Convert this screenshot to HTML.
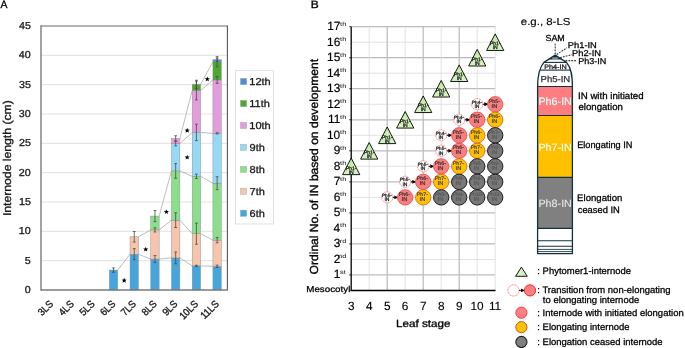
<!DOCTYPE html>
<html><head><meta charset="utf-8"><style>
html,body{margin:0;padding:0;background:#fff;}
svg{display:block;font-family:"Liberation Sans", sans-serif;text-rendering:geometricPrecision;will-change:transform;}
</style></head><body>
<svg width="685" height="348" viewBox="0 0 685 348">
<rect width="685" height="348" fill="#fff"/>
<text x="0.60" y="8.00" font-size="10.8" textLength="6.92" lengthAdjust="spacingAndGlyphs" fill="#000" stroke="#000" stroke-width="0.32">A</text>
<line x1="41.0" x2="227.4" y1="260.67" y2="260.67" stroke="#D9D9D9" stroke-width="0.8"/>
<line x1="41.0" x2="227.4" y1="231.33" y2="231.33" stroke="#D9D9D9" stroke-width="0.8"/>
<line x1="41.0" x2="227.4" y1="202.00" y2="202.00" stroke="#D9D9D9" stroke-width="0.8"/>
<line x1="41.0" x2="227.4" y1="172.67" y2="172.67" stroke="#D9D9D9" stroke-width="0.8"/>
<line x1="41.0" x2="227.4" y1="143.33" y2="143.33" stroke="#D9D9D9" stroke-width="0.8"/>
<line x1="41.0" x2="227.4" y1="114.00" y2="114.00" stroke="#D9D9D9" stroke-width="0.8"/>
<line x1="41.0" x2="227.4" y1="84.67" y2="84.67" stroke="#D9D9D9" stroke-width="0.8"/>
<line x1="41.0" x2="227.4" y1="55.33" y2="55.33" stroke="#D9D9D9" stroke-width="0.8"/>
<text x="24.83" y="293.10" font-size="10.1" textLength="5.95" lengthAdjust="spacingAndGlyphs" fill="#1a1a1a" stroke="#1a1a1a" stroke-width="0.30">0</text>
<text x="24.89" y="263.77" font-size="10.1" textLength="5.95" lengthAdjust="spacingAndGlyphs" fill="#1a1a1a" stroke="#1a1a1a" stroke-width="0.30">5</text>
<text x="18.89" y="234.43" font-size="10.1" textLength="11.91" lengthAdjust="spacingAndGlyphs" fill="#1a1a1a" stroke="#1a1a1a" stroke-width="0.30">10</text>
<text x="18.94" y="205.10" font-size="10.1" textLength="11.91" lengthAdjust="spacingAndGlyphs" fill="#1a1a1a" stroke="#1a1a1a" stroke-width="0.30">15</text>
<text x="18.89" y="175.77" font-size="10.1" textLength="11.91" lengthAdjust="spacingAndGlyphs" fill="#1a1a1a" stroke="#1a1a1a" stroke-width="0.30">20</text>
<text x="18.94" y="146.43" font-size="10.1" textLength="11.91" lengthAdjust="spacingAndGlyphs" fill="#1a1a1a" stroke="#1a1a1a" stroke-width="0.30">25</text>
<text x="18.89" y="117.10" font-size="10.1" textLength="11.91" lengthAdjust="spacingAndGlyphs" fill="#1a1a1a" stroke="#1a1a1a" stroke-width="0.30">30</text>
<text x="18.94" y="87.77" font-size="10.1" textLength="11.91" lengthAdjust="spacingAndGlyphs" fill="#1a1a1a" stroke="#1a1a1a" stroke-width="0.30">35</text>
<text x="18.89" y="58.43" font-size="10.1" textLength="11.91" lengthAdjust="spacingAndGlyphs" fill="#1a1a1a" stroke="#1a1a1a" stroke-width="0.30">40</text>
<text x="18.94" y="29.10" font-size="10.1" textLength="11.91" lengthAdjust="spacingAndGlyphs" fill="#1a1a1a" stroke="#1a1a1a" stroke-width="0.30">45</text>
<g transform="translate(10.7 215) rotate(-90)"><text x="-1.10" y="0.00" font-size="11.3" textLength="115.89" lengthAdjust="spacingAndGlyphs" fill="#1a1a1a" stroke="#1a1a1a" stroke-width="0.34">Internode length (cm)</text></g>
<g transform="translate(53.56 304.90) rotate(-45)"><text x="-16.23" y="0.00" font-size="10.2" textLength="16.70" lengthAdjust="spacingAndGlyphs" fill="#1a1a1a" stroke="#1a1a1a" stroke-width="0.36">3LS</text></g>
<g transform="translate(74.28 304.90) rotate(-45)"><text x="-16.23" y="0.00" font-size="10.2" textLength="16.70" lengthAdjust="spacingAndGlyphs" fill="#1a1a1a" stroke="#1a1a1a" stroke-width="0.36">4LS</text></g>
<g transform="translate(95.00 304.90) rotate(-45)"><text x="-16.23" y="0.00" font-size="10.2" textLength="16.70" lengthAdjust="spacingAndGlyphs" fill="#1a1a1a" stroke="#1a1a1a" stroke-width="0.36">5LS</text></g>
<g transform="translate(115.72 304.90) rotate(-45)"><text x="-16.23" y="0.00" font-size="10.2" textLength="16.70" lengthAdjust="spacingAndGlyphs" fill="#1a1a1a" stroke="#1a1a1a" stroke-width="0.36">6LS</text></g>
<g transform="translate(136.44 304.90) rotate(-45)"><text x="-16.23" y="0.00" font-size="10.2" textLength="16.70" lengthAdjust="spacingAndGlyphs" fill="#1a1a1a" stroke="#1a1a1a" stroke-width="0.36">7LS</text></g>
<g transform="translate(157.16 304.90) rotate(-45)"><text x="-16.23" y="0.00" font-size="10.2" textLength="16.70" lengthAdjust="spacingAndGlyphs" fill="#1a1a1a" stroke="#1a1a1a" stroke-width="0.36">8LS</text></g>
<g transform="translate(177.88 304.90) rotate(-45)"><text x="-16.23" y="0.00" font-size="10.2" textLength="16.70" lengthAdjust="spacingAndGlyphs" fill="#1a1a1a" stroke="#1a1a1a" stroke-width="0.36">9LS</text></g>
<g transform="translate(198.60 304.90) rotate(-45)"><text x="-21.49" y="0.00" font-size="10.2" textLength="21.92" lengthAdjust="spacingAndGlyphs" fill="#1a1a1a" stroke="#1a1a1a" stroke-width="0.36">10LS</text></g>
<g transform="translate(219.32 304.90) rotate(-45)"><text x="-20.79" y="0.00" font-size="10.2" textLength="21.22" lengthAdjust="spacingAndGlyphs" fill="#1a1a1a" stroke="#1a1a1a" stroke-width="0.36">11LS</text></g>
<line x1="117.72" y1="270.05" x2="130.04" y2="254.21" stroke="#A0A0A0" stroke-width="0.7"/>
<line x1="138.44" y1="254.21" x2="150.76" y2="259.08" stroke="#A0A0A0" stroke-width="0.7"/>
<line x1="138.44" y1="236.79" x2="150.76" y2="229.93" stroke="#A0A0A0" stroke-width="0.7"/>
<line x1="159.16" y1="259.08" x2="171.48" y2="257.91" stroke="#A0A0A0" stroke-width="0.7"/>
<line x1="159.16" y1="229.93" x2="171.48" y2="220.19" stroke="#A0A0A0" stroke-width="0.7"/>
<line x1="159.16" y1="216.08" x2="171.48" y2="170.91" stroke="#A0A0A0" stroke-width="0.7"/>
<line x1="179.88" y1="257.91" x2="192.20" y2="265.83" stroke="#A0A0A0" stroke-width="0.7"/>
<line x1="179.88" y1="220.19" x2="192.20" y2="233.68" stroke="#A0A0A0" stroke-width="0.7"/>
<line x1="179.88" y1="170.91" x2="192.20" y2="176.30" stroke="#A0A0A0" stroke-width="0.7"/>
<line x1="179.88" y1="143.51" x2="192.20" y2="132.42" stroke="#A0A0A0" stroke-width="0.7"/>
<line x1="179.88" y1="138.41" x2="192.20" y2="90.53" stroke="#A0A0A0" stroke-width="0.7"/>
<line x1="200.60" y1="265.83" x2="212.92" y2="266.30" stroke="#A0A0A0" stroke-width="0.7"/>
<line x1="200.60" y1="233.68" x2="212.92" y2="240.13" stroke="#A0A0A0" stroke-width="0.7"/>
<line x1="200.60" y1="176.30" x2="212.92" y2="183.23" stroke="#A0A0A0" stroke-width="0.7"/>
<line x1="200.60" y1="132.42" x2="212.92" y2="133.36" stroke="#A0A0A0" stroke-width="0.7"/>
<line x1="200.60" y1="90.53" x2="212.92" y2="79.97" stroke="#A0A0A0" stroke-width="0.7"/>
<line x1="200.60" y1="84.31" x2="212.92" y2="61.79" stroke="#A0A0A0" stroke-width="0.7"/>
<rect x="109.32" y="270.05" width="8.4" height="19.95" fill="#45A6DD" stroke="#8C8C8C" stroke-width="0.45"/>
<rect x="130.04" y="254.21" width="8.4" height="35.79" fill="#45A6DD" stroke="#8C8C8C" stroke-width="0.45"/>
<rect x="130.04" y="236.79" width="8.4" height="17.42" fill="#F6C5AC" stroke="#8C8C8C" stroke-width="0.45"/>
<rect x="150.76" y="259.08" width="8.4" height="30.92" fill="#45A6DD" stroke="#8C8C8C" stroke-width="0.45"/>
<rect x="150.76" y="229.93" width="8.4" height="29.16" fill="#F6C5AC" stroke="#8C8C8C" stroke-width="0.45"/>
<rect x="150.76" y="216.08" width="8.4" height="13.85" fill="#8BDF8B" stroke="#8C8C8C" stroke-width="0.45"/>
<rect x="171.48" y="257.91" width="8.4" height="32.09" fill="#45A6DD" stroke="#8C8C8C" stroke-width="0.45"/>
<rect x="171.48" y="220.19" width="8.4" height="37.72" fill="#F6C5AC" stroke="#8C8C8C" stroke-width="0.45"/>
<rect x="171.48" y="170.91" width="8.4" height="49.28" fill="#8BDF8B" stroke="#8C8C8C" stroke-width="0.45"/>
<rect x="171.48" y="143.51" width="8.4" height="27.40" fill="#96D9F5" stroke="#8C8C8C" stroke-width="0.45"/>
<rect x="171.48" y="138.41" width="8.4" height="5.10" fill="#E39DDD" stroke="#8C8C8C" stroke-width="0.45"/>
<rect x="192.20" y="265.83" width="8.4" height="24.17" fill="#45A6DD" stroke="#8C8C8C" stroke-width="0.45"/>
<rect x="192.20" y="233.68" width="8.4" height="32.15" fill="#F6C5AC" stroke="#8C8C8C" stroke-width="0.45"/>
<rect x="192.20" y="176.30" width="8.4" height="57.38" fill="#8BDF8B" stroke="#8C8C8C" stroke-width="0.45"/>
<rect x="192.20" y="132.42" width="8.4" height="43.88" fill="#96D9F5" stroke="#8C8C8C" stroke-width="0.45"/>
<rect x="192.20" y="90.53" width="8.4" height="41.89" fill="#E39DDD" stroke="#8C8C8C" stroke-width="0.45"/>
<rect x="192.20" y="84.31" width="8.4" height="6.22" fill="#4EA72E" stroke="#8C8C8C" stroke-width="0.45"/>
<rect x="212.92" y="266.30" width="8.4" height="23.70" fill="#45A6DD" stroke="#8C8C8C" stroke-width="0.45"/>
<rect x="212.92" y="240.13" width="8.4" height="26.17" fill="#F6C5AC" stroke="#8C8C8C" stroke-width="0.45"/>
<rect x="212.92" y="183.23" width="8.4" height="56.91" fill="#8BDF8B" stroke="#8C8C8C" stroke-width="0.45"/>
<rect x="212.92" y="133.36" width="8.4" height="49.87" fill="#96D9F5" stroke="#8C8C8C" stroke-width="0.45"/>
<rect x="212.92" y="79.97" width="8.4" height="53.39" fill="#E39DDD" stroke="#8C8C8C" stroke-width="0.45"/>
<rect x="212.92" y="61.79" width="8.4" height="18.19" fill="#4EA72E" stroke="#8C8C8C" stroke-width="0.45"/>
<rect x="212.92" y="59.73" width="8.4" height="2.05" fill="#4A8FDB" stroke="#8C8C8C" stroke-width="0.45"/>
<path d="M113.52 267.88V272.22M112.12 267.88h2.8M112.12 272.22h2.8" stroke="#4a4a4a" stroke-width="0.8" fill="none"/>
<path d="M134.24 248.64V259.79M132.84 248.64h2.8M132.84 259.79h2.8" stroke="#4a4a4a" stroke-width="0.8" fill="none"/>
<path d="M134.24 231.51V242.07M132.84 231.51h2.8M132.84 242.07h2.8" stroke="#4a4a4a" stroke-width="0.8" fill="none"/>
<path d="M154.96 255.56V262.60M153.56 255.56h2.8M153.56 262.60h2.8" stroke="#4a4a4a" stroke-width="0.8" fill="none"/>
<path d="M154.96 227.87V231.98M153.56 227.87h2.8M153.56 231.98h2.8" stroke="#4a4a4a" stroke-width="0.8" fill="none"/>
<path d="M154.96 210.51V221.65M153.56 210.51h2.8M153.56 221.65h2.8" stroke="#4a4a4a" stroke-width="0.8" fill="none"/>
<path d="M175.68 252.04V263.78M174.28 252.04h2.8M174.28 263.78h2.8" stroke="#4a4a4a" stroke-width="0.8" fill="none"/>
<path d="M175.68 212.85V227.52M174.28 212.85h2.8M174.28 227.52h2.8" stroke="#4a4a4a" stroke-width="0.8" fill="none"/>
<path d="M175.68 163.57V178.24M174.28 163.57h2.8M174.28 178.24h2.8" stroke="#4a4a4a" stroke-width="0.8" fill="none"/>
<path d="M175.68 141.16V145.86M174.28 141.16h2.8M174.28 145.86h2.8" stroke="#4a4a4a" stroke-width="0.8" fill="none"/>
<path d="M175.68 135.77V141.05M174.28 135.77h2.8M174.28 141.05h2.8" stroke="#4a4a4a" stroke-width="0.8" fill="none"/>
<path d="M196.40 265.24V266.42M195.00 265.24h2.8M195.00 266.42h2.8" stroke="#4a4a4a" stroke-width="0.8" fill="none"/>
<path d="M196.40 223.12V244.24M195.00 223.12h2.8M195.00 244.24h2.8" stroke="#4a4a4a" stroke-width="0.8" fill="none"/>
<path d="M196.40 174.13V178.47M195.00 174.13h2.8M195.00 178.47h2.8" stroke="#4a4a4a" stroke-width="0.8" fill="none"/>
<path d="M196.40 124.21V140.63M195.00 124.21h2.8M195.00 140.63h2.8" stroke="#4a4a4a" stroke-width="0.8" fill="none"/>
<path d="M196.40 81.15V99.92M195.00 81.15h2.8M195.00 99.92h2.8" stroke="#4a4a4a" stroke-width="0.8" fill="none"/>
<path d="M196.40 80.21V88.42M195.00 80.21h2.8M195.00 88.42h2.8" stroke="#4a4a4a" stroke-width="0.8" fill="none"/>
<path d="M217.12 265.13V267.47M215.72 265.13h2.8M215.72 267.47h2.8" stroke="#4a4a4a" stroke-width="0.8" fill="none"/>
<path d="M217.12 237.49V242.77M215.72 237.49h2.8M215.72 242.77h2.8" stroke="#4a4a4a" stroke-width="0.8" fill="none"/>
<path d="M217.12 176.77V189.68M215.72 176.77h2.8M215.72 189.68h2.8" stroke="#4a4a4a" stroke-width="0.8" fill="none"/>
<path d="M217.12 132.77V133.95M215.72 132.77h2.8M215.72 133.95h2.8" stroke="#4a4a4a" stroke-width="0.8" fill="none"/>
<path d="M217.12 76.57V83.38M215.72 76.57h2.8M215.72 83.38h2.8" stroke="#4a4a4a" stroke-width="0.8" fill="none"/>
<path d="M217.12 56.68V66.89M215.72 56.68h2.8M215.72 66.89h2.8" stroke="#4a4a4a" stroke-width="0.8" fill="none"/>
<path d="M217.12 58.15V61.32M215.72 58.15h2.8M215.72 61.32h2.8" stroke="#4a4a4a" stroke-width="0.8" fill="none"/>
<line x1="41.0" x2="227.4" y1="26" y2="26" stroke="#9C9C9C" stroke-width="1.5"/>
<line x1="227.4" x2="227.4" y1="25.5" y2="290.0" stroke="#555" stroke-width="1.1"/>
<line x1="41.0" x2="41.0" y1="25.3" y2="290.7" stroke="#767676" stroke-width="1.35"/>
<line x1="41.0" x2="227.9" y1="290.0" y2="290.0" stroke="#7A7A7A" stroke-width="1.4"/>
<polygon points="124.20,277.75 124.88,279.57 126.82,279.65 125.30,280.86 125.82,282.72 124.20,281.65 122.58,282.72 123.10,280.86 121.58,279.65 123.52,279.57" fill="#000"/>
<polygon points="145.70,246.65 146.38,248.47 148.32,248.55 146.80,249.76 147.32,251.62 145.70,250.56 144.08,251.62 144.60,249.76 143.08,248.55 145.02,248.47" fill="#000"/>
<polygon points="166.40,209.15 167.08,210.97 169.02,211.05 167.50,212.26 168.02,214.12 166.40,213.06 164.78,214.12 165.30,212.26 163.78,211.05 165.72,210.97" fill="#000"/>
<polygon points="187.20,154.65 187.88,156.47 189.82,156.55 188.30,157.76 188.82,159.62 187.20,158.56 185.58,159.62 186.10,157.76 184.58,156.55 186.52,156.47" fill="#000"/>
<polygon points="187.20,127.75 187.88,129.57 189.82,129.65 188.30,130.86 188.82,132.72 187.20,131.66 185.58,132.72 186.10,130.86 184.58,129.65 186.52,129.57" fill="#000"/>
<polygon points="207.30,76.45 207.98,78.27 209.92,78.35 208.40,79.56 208.92,81.42 207.30,80.36 205.68,81.42 206.20,79.56 204.68,78.35 206.62,78.27" fill="#000"/>
<rect x="235.5" y="70.7" width="37.9" height="153.3" fill="#fff" stroke="#D9D9D9" stroke-width="0.8"/>
<rect x="240.4" y="78.40" width="6.3" height="6.3" fill="#4A8FDB" stroke="#A6A6A6" stroke-width="0.4"/>
<text x="249.27" y="84.80" font-size="10.1" textLength="21.43" lengthAdjust="spacingAndGlyphs" fill="#1a1a1a" stroke="#1a1a1a" stroke-width="0.30">12th</text>
<rect x="240.4" y="100.35" width="6.3" height="6.3" fill="#4EA72E" stroke="#A6A6A6" stroke-width="0.4"/>
<text x="249.27" y="106.75" font-size="10.1" textLength="20.61" lengthAdjust="spacingAndGlyphs" fill="#1a1a1a" stroke="#1a1a1a" stroke-width="0.30">11th</text>
<rect x="240.4" y="122.30" width="6.3" height="6.3" fill="#E39DDD" stroke="#A6A6A6" stroke-width="0.4"/>
<text x="249.27" y="128.70" font-size="10.1" textLength="21.43" lengthAdjust="spacingAndGlyphs" fill="#1a1a1a" stroke="#1a1a1a" stroke-width="0.30">10th</text>
<rect x="240.4" y="144.25" width="6.3" height="6.3" fill="#96D9F5" stroke="#A6A6A6" stroke-width="0.4"/>
<text x="249.60" y="150.65" font-size="10.1" textLength="15.30" lengthAdjust="spacingAndGlyphs" fill="#1a1a1a" stroke="#1a1a1a" stroke-width="0.30">9th</text>
<rect x="240.4" y="166.20" width="6.3" height="6.3" fill="#8BDF8B" stroke="#A6A6A6" stroke-width="0.4"/>
<text x="249.60" y="172.60" font-size="10.1" textLength="15.30" lengthAdjust="spacingAndGlyphs" fill="#1a1a1a" stroke="#1a1a1a" stroke-width="0.30">8th</text>
<rect x="240.4" y="188.15" width="6.3" height="6.3" fill="#F6C5AC" stroke="#A6A6A6" stroke-width="0.4"/>
<text x="249.55" y="194.55" font-size="10.1" textLength="15.30" lengthAdjust="spacingAndGlyphs" fill="#1a1a1a" stroke="#1a1a1a" stroke-width="0.30">7th</text>
<rect x="240.4" y="210.10" width="6.3" height="6.3" fill="#45A6DD" stroke="#A6A6A6" stroke-width="0.4"/>
<text x="249.55" y="216.50" font-size="10.1" textLength="15.30" lengthAdjust="spacingAndGlyphs" fill="#1a1a1a" stroke="#1a1a1a" stroke-width="0.30">6th</text>
<text x="310.74" y="8.30" font-size="10.7" textLength="7.98" lengthAdjust="spacingAndGlyphs" fill="#000" stroke="#000" stroke-width="0.32">B</text>
<line x1="351.2" x2="495.20" y1="274.98" y2="274.98" stroke="#BBBBBB" stroke-width="1.25"/>
<line x1="351.2" x2="495.20" y1="259.46" y2="259.46" stroke="#DADADA" stroke-width="0.8"/>
<line x1="351.2" x2="495.20" y1="243.94" y2="243.94" stroke="#BBBBBB" stroke-width="1.25"/>
<line x1="351.2" x2="495.20" y1="228.42" y2="228.42" stroke="#DADADA" stroke-width="0.8"/>
<line x1="351.2" x2="495.20" y1="212.90" y2="212.90" stroke="#BBBBBB" stroke-width="1.25"/>
<line x1="351.2" x2="495.20" y1="197.38" y2="197.38" stroke="#DADADA" stroke-width="0.8"/>
<line x1="351.2" x2="495.20" y1="181.86" y2="181.86" stroke="#BBBBBB" stroke-width="1.25"/>
<line x1="351.2" x2="495.20" y1="166.34" y2="166.34" stroke="#DADADA" stroke-width="0.8"/>
<line x1="351.2" x2="495.20" y1="150.82" y2="150.82" stroke="#BBBBBB" stroke-width="1.25"/>
<line x1="351.2" x2="495.20" y1="135.30" y2="135.30" stroke="#DADADA" stroke-width="0.8"/>
<line x1="351.2" x2="495.20" y1="119.78" y2="119.78" stroke="#BBBBBB" stroke-width="1.25"/>
<line x1="351.2" x2="495.20" y1="104.26" y2="104.26" stroke="#DADADA" stroke-width="0.8"/>
<line x1="351.2" x2="495.20" y1="88.74" y2="88.74" stroke="#BBBBBB" stroke-width="1.25"/>
<line x1="351.2" x2="495.20" y1="73.22" y2="73.22" stroke="#DADADA" stroke-width="0.8"/>
<line x1="351.2" x2="495.20" y1="57.70" y2="57.70" stroke="#BBBBBB" stroke-width="1.25"/>
<line x1="351.2" x2="495.20" y1="42.18" y2="42.18" stroke="#DADADA" stroke-width="0.8"/>
<line x1="351.2" x2="495.20" y1="26.66" y2="26.66" stroke="#BBBBBB" stroke-width="1.25"/>
<line x1="369.20" x2="369.20" y1="26.66" y2="290.5" stroke="#DADADA" stroke-width="0.8"/>
<line x1="387.20" x2="387.20" y1="26.66" y2="290.5" stroke="#BBBBBB" stroke-width="1.25"/>
<line x1="405.20" x2="405.20" y1="26.66" y2="290.5" stroke="#DADADA" stroke-width="0.8"/>
<line x1="423.20" x2="423.20" y1="26.66" y2="290.5" stroke="#BBBBBB" stroke-width="1.25"/>
<line x1="441.20" x2="441.20" y1="26.66" y2="290.5" stroke="#DADADA" stroke-width="0.8"/>
<line x1="459.20" x2="459.20" y1="26.66" y2="290.5" stroke="#BBBBBB" stroke-width="1.25"/>
<line x1="477.20" x2="477.20" y1="26.66" y2="290.5" stroke="#DADADA" stroke-width="0.8"/>
<line x1="495.20" x2="495.20" y1="26.66" y2="290.5" stroke="#DADADA" stroke-width="0.8"/>
<line x1="351.2" x2="351.2" y1="26.66" y2="291.1" stroke="#000" stroke-width="1.3"/>
<line x1="350.59999999999997" x2="495.50" y1="290.5" y2="290.5" stroke="#000" stroke-width="1.3"/>
<line x1="349.2" x2="351.2" y1="274.98" y2="274.98" stroke="#000" stroke-width="0.8"/>
<line x1="349.2" x2="351.2" y1="243.94" y2="243.94" stroke="#000" stroke-width="0.8"/>
<line x1="349.2" x2="351.2" y1="212.90" y2="212.90" stroke="#000" stroke-width="0.8"/>
<line x1="349.2" x2="351.2" y1="181.86" y2="181.86" stroke="#000" stroke-width="0.8"/>
<line x1="349.2" x2="351.2" y1="150.82" y2="150.82" stroke="#000" stroke-width="0.8"/>
<line x1="349.2" x2="351.2" y1="119.78" y2="119.78" stroke="#000" stroke-width="0.8"/>
<line x1="349.2" x2="351.2" y1="88.74" y2="88.74" stroke="#000" stroke-width="0.8"/>
<line x1="349.2" x2="351.2" y1="57.70" y2="57.70" stroke="#000" stroke-width="0.8"/>
<line x1="349.2" x2="351.2" y1="26.66" y2="26.66" stroke="#000" stroke-width="0.8"/>
<text x="340.12" y="273.98" font-size="5.9" textLength="5.74" lengthAdjust="spacingAndGlyphs" fill="#111" stroke="#111" stroke-width="0.03">st</text>
<text x="333.73" y="278.48" font-size="11.9" textLength="6.62" lengthAdjust="spacingAndGlyphs" fill="#000" stroke="#000" stroke-width="0.18">1</text>
<text x="338.09" y="258.46" font-size="5.9" textLength="8.20" lengthAdjust="spacingAndGlyphs" fill="#111" stroke="#111" stroke-width="0.03">nd</text>
<text x="333.79" y="262.96" font-size="11.9" textLength="6.62" lengthAdjust="spacingAndGlyphs" fill="#000" stroke="#000" stroke-width="0.18">2</text>
<text x="339.72" y="242.94" font-size="5.9" textLength="6.56" lengthAdjust="spacingAndGlyphs" fill="#111" stroke="#111" stroke-width="0.03">rd</text>
<text x="333.67" y="247.44" font-size="11.9" textLength="6.62" lengthAdjust="spacingAndGlyphs" fill="#000" stroke="#000" stroke-width="0.18">3</text>
<text x="340.12" y="227.42" font-size="5.9" textLength="6.15" lengthAdjust="spacingAndGlyphs" fill="#111" stroke="#111" stroke-width="0.03">th</text>
<text x="333.55" y="231.92" font-size="11.9" textLength="6.62" lengthAdjust="spacingAndGlyphs" fill="#000" stroke="#000" stroke-width="0.18">4</text>
<text x="340.12" y="211.90" font-size="5.9" textLength="6.15" lengthAdjust="spacingAndGlyphs" fill="#111" stroke="#111" stroke-width="0.03">th</text>
<text x="333.67" y="216.40" font-size="11.9" textLength="6.62" lengthAdjust="spacingAndGlyphs" fill="#000" stroke="#000" stroke-width="0.18">5</text>
<text x="340.12" y="196.38" font-size="5.9" textLength="6.15" lengthAdjust="spacingAndGlyphs" fill="#111" stroke="#111" stroke-width="0.03">th</text>
<text x="333.67" y="200.88" font-size="11.9" textLength="6.62" lengthAdjust="spacingAndGlyphs" fill="#000" stroke="#000" stroke-width="0.18">6</text>
<text x="340.12" y="180.86" font-size="5.9" textLength="6.15" lengthAdjust="spacingAndGlyphs" fill="#111" stroke="#111" stroke-width="0.03">th</text>
<text x="333.79" y="185.36" font-size="11.9" textLength="6.62" lengthAdjust="spacingAndGlyphs" fill="#000" stroke="#000" stroke-width="0.18">7</text>
<text x="340.12" y="165.34" font-size="5.9" textLength="6.15" lengthAdjust="spacingAndGlyphs" fill="#111" stroke="#111" stroke-width="0.03">th</text>
<text x="333.67" y="169.84" font-size="11.9" textLength="6.62" lengthAdjust="spacingAndGlyphs" fill="#000" stroke="#000" stroke-width="0.18">8</text>
<text x="340.12" y="149.82" font-size="5.9" textLength="6.15" lengthAdjust="spacingAndGlyphs" fill="#111" stroke="#111" stroke-width="0.03">th</text>
<text x="333.73" y="154.32" font-size="11.9" textLength="6.62" lengthAdjust="spacingAndGlyphs" fill="#000" stroke="#000" stroke-width="0.18">9</text>
<text x="340.12" y="134.30" font-size="5.9" textLength="6.15" lengthAdjust="spacingAndGlyphs" fill="#111" stroke="#111" stroke-width="0.03">th</text>
<text x="327.01" y="138.80" font-size="11.9" textLength="13.24" lengthAdjust="spacingAndGlyphs" fill="#000" stroke="#000" stroke-width="0.18">10</text>
<text x="340.12" y="118.78" font-size="5.9" textLength="6.15" lengthAdjust="spacingAndGlyphs" fill="#111" stroke="#111" stroke-width="0.03">th</text>
<text x="328.02" y="123.28" font-size="11.9" textLength="12.35" lengthAdjust="spacingAndGlyphs" fill="#000" stroke="#000" stroke-width="0.18">11</text>
<text x="340.12" y="103.26" font-size="5.9" textLength="6.15" lengthAdjust="spacingAndGlyphs" fill="#111" stroke="#111" stroke-width="0.03">th</text>
<text x="327.19" y="107.76" font-size="11.9" textLength="13.24" lengthAdjust="spacingAndGlyphs" fill="#000" stroke="#000" stroke-width="0.18">12</text>
<text x="340.12" y="87.74" font-size="5.9" textLength="6.15" lengthAdjust="spacingAndGlyphs" fill="#111" stroke="#111" stroke-width="0.03">th</text>
<text x="327.07" y="92.24" font-size="11.9" textLength="13.24" lengthAdjust="spacingAndGlyphs" fill="#000" stroke="#000" stroke-width="0.18">13</text>
<text x="340.12" y="72.22" font-size="5.9" textLength="6.15" lengthAdjust="spacingAndGlyphs" fill="#111" stroke="#111" stroke-width="0.03">th</text>
<text x="326.95" y="76.72" font-size="11.9" textLength="13.24" lengthAdjust="spacingAndGlyphs" fill="#000" stroke="#000" stroke-width="0.18">14</text>
<text x="340.12" y="56.70" font-size="5.9" textLength="6.15" lengthAdjust="spacingAndGlyphs" fill="#111" stroke="#111" stroke-width="0.03">th</text>
<text x="327.07" y="61.20" font-size="11.9" textLength="13.24" lengthAdjust="spacingAndGlyphs" fill="#000" stroke="#000" stroke-width="0.18">15</text>
<text x="340.12" y="41.18" font-size="5.9" textLength="6.15" lengthAdjust="spacingAndGlyphs" fill="#111" stroke="#111" stroke-width="0.03">th</text>
<text x="327.07" y="45.68" font-size="11.9" textLength="13.24" lengthAdjust="spacingAndGlyphs" fill="#000" stroke="#000" stroke-width="0.18">16</text>
<text x="340.12" y="25.66" font-size="5.9" textLength="6.15" lengthAdjust="spacingAndGlyphs" fill="#111" stroke="#111" stroke-width="0.03">th</text>
<text x="327.19" y="30.16" font-size="11.9" textLength="13.24" lengthAdjust="spacingAndGlyphs" fill="#000" stroke="#000" stroke-width="0.18">17</text>
<text x="306.22" y="291.70" font-size="8.6" textLength="44.14" lengthAdjust="spacingAndGlyphs" fill="#000" stroke="#000" stroke-width="0.26">Mesocotyl</text>
<text x="347.93" y="309.80" font-size="11.8" textLength="6.56" lengthAdjust="spacingAndGlyphs" fill="#000" stroke="#000" stroke-width="0.12">3</text>
<text x="365.98" y="309.80" font-size="11.8" textLength="6.56" lengthAdjust="spacingAndGlyphs" fill="#000" stroke="#000" stroke-width="0.12">4</text>
<text x="383.93" y="309.80" font-size="11.8" textLength="6.56" lengthAdjust="spacingAndGlyphs" fill="#000" stroke="#000" stroke-width="0.12">5</text>
<text x="401.87" y="309.80" font-size="11.8" textLength="6.56" lengthAdjust="spacingAndGlyphs" fill="#000" stroke="#000" stroke-width="0.12">6</text>
<text x="419.93" y="309.80" font-size="11.8" textLength="6.56" lengthAdjust="spacingAndGlyphs" fill="#000" stroke="#000" stroke-width="0.12">7</text>
<text x="437.90" y="309.80" font-size="11.8" textLength="6.56" lengthAdjust="spacingAndGlyphs" fill="#000" stroke="#000" stroke-width="0.12">8</text>
<text x="455.93" y="309.80" font-size="11.8" textLength="6.56" lengthAdjust="spacingAndGlyphs" fill="#000" stroke="#000" stroke-width="0.12">9</text>
<text x="470.42" y="309.80" font-size="11.8" textLength="13.13" lengthAdjust="spacingAndGlyphs" fill="#000" stroke="#000" stroke-width="0.12">10</text>
<text x="488.92" y="309.80" font-size="11.8" textLength="12.25" lengthAdjust="spacingAndGlyphs" fill="#000" stroke="#000" stroke-width="0.12">11</text>
<text x="395.97" y="326.60" font-size="10.4" textLength="54.57" lengthAdjust="spacingAndGlyphs" fill="#000" stroke="#000" stroke-width="0.31">Leaf stage</text>
<g transform="translate(318.3 273.9) rotate(-90)"><text x="-0.54" y="0.00" font-size="11.7" textLength="215.55" lengthAdjust="spacingAndGlyphs" fill="#000" stroke="#000" stroke-width="0.35">Ordinal No. of IN based on development</text></g>
<defs><linearGradient id="tg" x1="0" y1="0" x2="0" y2="1"><stop offset="0" stop-color="#B2E496"/><stop offset="0.45" stop-color="#CDEFB4"/><stop offset="1" stop-color="#D6F3C2"/></linearGradient></defs>
<path d="M351.20 158.04L359.80 174.64L342.60 174.64Z" fill="url(#tg)" stroke="#000" stroke-width="0.9" stroke-linejoin="miter"/>
<text x="351.20" y="169.54" font-size="5.0" text-anchor="middle" fill="#1a1a1a" stroke="#1a1a1a" stroke-width="0.25">Ph1-</text><text x="351.20" y="173.54" font-size="5.0" text-anchor="middle" fill="#1a1a1a" stroke="#1a1a1a" stroke-width="0.25">IN</text>
<path d="M369.20 142.52L377.80 159.12L360.60 159.12Z" fill="url(#tg)" stroke="#000" stroke-width="0.9" stroke-linejoin="miter"/>
<text x="369.20" y="154.02" font-size="5.0" text-anchor="middle" fill="#1a1a1a" stroke="#1a1a1a" stroke-width="0.25">Ph1-</text><text x="369.20" y="158.02" font-size="5.0" text-anchor="middle" fill="#1a1a1a" stroke="#1a1a1a" stroke-width="0.25">IN</text>
<path d="M387.20 127.00L395.80 143.60L378.60 143.60Z" fill="url(#tg)" stroke="#000" stroke-width="0.9" stroke-linejoin="miter"/>
<text x="387.20" y="138.50" font-size="5.0" text-anchor="middle" fill="#1a1a1a" stroke="#1a1a1a" stroke-width="0.25">Ph1-</text><text x="387.20" y="142.50" font-size="5.0" text-anchor="middle" fill="#1a1a1a" stroke="#1a1a1a" stroke-width="0.25">IN</text>
<path d="M405.20 111.48L413.80 128.08L396.60 128.08Z" fill="url(#tg)" stroke="#000" stroke-width="0.9" stroke-linejoin="miter"/>
<text x="405.20" y="122.98" font-size="5.0" text-anchor="middle" fill="#1a1a1a" stroke="#1a1a1a" stroke-width="0.25">Ph1-</text><text x="405.20" y="126.98" font-size="5.0" text-anchor="middle" fill="#1a1a1a" stroke="#1a1a1a" stroke-width="0.25">IN</text>
<path d="M423.20 95.96L431.80 112.56L414.60 112.56Z" fill="url(#tg)" stroke="#000" stroke-width="0.9" stroke-linejoin="miter"/>
<text x="423.20" y="107.46" font-size="5.0" text-anchor="middle" fill="#1a1a1a" stroke="#1a1a1a" stroke-width="0.25">Ph1-</text><text x="423.20" y="111.46" font-size="5.0" text-anchor="middle" fill="#1a1a1a" stroke="#1a1a1a" stroke-width="0.25">IN</text>
<path d="M441.20 80.44L449.80 97.04L432.60 97.04Z" fill="url(#tg)" stroke="#000" stroke-width="0.9" stroke-linejoin="miter"/>
<text x="441.20" y="91.94" font-size="5.0" text-anchor="middle" fill="#1a1a1a" stroke="#1a1a1a" stroke-width="0.25">Ph1-</text><text x="441.20" y="95.94" font-size="5.0" text-anchor="middle" fill="#1a1a1a" stroke="#1a1a1a" stroke-width="0.25">IN</text>
<path d="M459.20 64.92L467.80 81.52L450.60 81.52Z" fill="url(#tg)" stroke="#000" stroke-width="0.9" stroke-linejoin="miter"/>
<text x="459.20" y="76.42" font-size="5.0" text-anchor="middle" fill="#1a1a1a" stroke="#1a1a1a" stroke-width="0.25">Ph1-</text><text x="459.20" y="80.42" font-size="5.0" text-anchor="middle" fill="#1a1a1a" stroke="#1a1a1a" stroke-width="0.25">IN</text>
<path d="M477.20 49.40L485.80 66.00L468.60 66.00Z" fill="url(#tg)" stroke="#000" stroke-width="0.9" stroke-linejoin="miter"/>
<text x="477.20" y="60.90" font-size="5.0" text-anchor="middle" fill="#1a1a1a" stroke="#1a1a1a" stroke-width="0.25">Ph1-</text><text x="477.20" y="64.90" font-size="5.0" text-anchor="middle" fill="#1a1a1a" stroke="#1a1a1a" stroke-width="0.25">IN</text>
<path d="M495.20 33.88L503.80 50.48L486.60 50.48Z" fill="url(#tg)" stroke="#000" stroke-width="0.9" stroke-linejoin="miter"/>
<text x="495.20" y="45.38" font-size="5.0" text-anchor="middle" fill="#1a1a1a" stroke="#1a1a1a" stroke-width="0.25">Ph1-</text><text x="495.20" y="49.38" font-size="5.0" text-anchor="middle" fill="#1a1a1a" stroke="#1a1a1a" stroke-width="0.25">IN</text>
<defs><marker id="ah" markerWidth="4" markerHeight="4" refX="3.2" refY="2" orient="auto" markerUnits="userSpaceOnUse"><path d="M0 0L4 2L0 4Z" fill="#000"/></marker></defs>
<circle cx="387.20" cy="197.38" r="5.6" fill="#fff" stroke="#EC6A6A" stroke-width="0.85" stroke-dasharray="1.1 0.6"/>
<text x="386.90" y="196.78" font-size="4.6" text-anchor="middle" fill="#1a1a1a" stroke="#1a1a1a" stroke-width="0.25">Ph5-</text><text x="386.90" y="201.08" font-size="5.0" text-anchor="middle" fill="#1a1a1a" stroke="#1a1a1a" stroke-width="0.25">IN</text>
<line x1="392.80" y1="197.38" x2="397.50" y2="197.38" stroke="#000" stroke-width="0.9" marker-end="url(#ah)"/>
<circle cx="405.20" cy="181.86" r="5.6" fill="#fff" stroke="#EC6A6A" stroke-width="0.85" stroke-dasharray="1.1 0.6"/>
<text x="404.90" y="181.26" font-size="4.6" text-anchor="middle" fill="#1a1a1a" stroke="#1a1a1a" stroke-width="0.25">Ph5-</text><text x="404.90" y="185.56" font-size="5.0" text-anchor="middle" fill="#1a1a1a" stroke="#1a1a1a" stroke-width="0.25">IN</text>
<line x1="410.80" y1="181.86" x2="415.50" y2="181.86" stroke="#000" stroke-width="0.9" marker-end="url(#ah)"/>
<circle cx="423.20" cy="166.34" r="5.6" fill="#fff" stroke="#EC6A6A" stroke-width="0.85" stroke-dasharray="1.1 0.6"/>
<text x="422.90" y="165.74" font-size="4.6" text-anchor="middle" fill="#1a1a1a" stroke="#1a1a1a" stroke-width="0.25">Ph5-</text><text x="422.90" y="170.04" font-size="5.0" text-anchor="middle" fill="#1a1a1a" stroke="#1a1a1a" stroke-width="0.25">IN</text>
<line x1="428.80" y1="166.34" x2="433.50" y2="166.34" stroke="#000" stroke-width="0.9" marker-end="url(#ah)"/>
<circle cx="441.20" cy="150.82" r="5.6" fill="#fff" stroke="#EC6A6A" stroke-width="0.85" stroke-dasharray="1.1 0.6"/>
<text x="440.90" y="150.22" font-size="4.6" text-anchor="middle" fill="#1a1a1a" stroke="#1a1a1a" stroke-width="0.25">Ph5-</text><text x="440.90" y="154.52" font-size="5.0" text-anchor="middle" fill="#1a1a1a" stroke="#1a1a1a" stroke-width="0.25">IN</text>
<line x1="446.80" y1="150.82" x2="451.50" y2="150.82" stroke="#000" stroke-width="0.9" marker-end="url(#ah)"/>
<circle cx="441.20" cy="135.30" r="5.6" fill="#fff" stroke="#EC6A6A" stroke-width="0.85" stroke-dasharray="1.1 0.6"/>
<text x="440.90" y="134.70" font-size="4.6" text-anchor="middle" fill="#1a1a1a" stroke="#1a1a1a" stroke-width="0.25">Ph4-</text><text x="440.90" y="139.00" font-size="5.0" text-anchor="middle" fill="#1a1a1a" stroke="#1a1a1a" stroke-width="0.25">IN</text>
<line x1="446.80" y1="135.30" x2="451.50" y2="135.30" stroke="#000" stroke-width="0.9" marker-end="url(#ah)"/>
<circle cx="459.20" cy="119.78" r="5.6" fill="#fff" stroke="#EC6A6A" stroke-width="0.85" stroke-dasharray="1.1 0.6"/>
<text x="458.90" y="119.18" font-size="4.6" text-anchor="middle" fill="#1a1a1a" stroke="#1a1a1a" stroke-width="0.25">Ph4-</text><text x="458.90" y="123.48" font-size="5.0" text-anchor="middle" fill="#1a1a1a" stroke="#1a1a1a" stroke-width="0.25">IN</text>
<line x1="464.80" y1="119.78" x2="469.50" y2="119.78" stroke="#000" stroke-width="0.9" marker-end="url(#ah)"/>
<circle cx="477.20" cy="104.26" r="5.6" fill="#fff" stroke="#EC6A6A" stroke-width="0.85" stroke-dasharray="1.1 0.6"/>
<text x="476.90" y="103.66" font-size="4.6" text-anchor="middle" fill="#1a1a1a" stroke="#1a1a1a" stroke-width="0.25">Ph4-</text><text x="476.90" y="107.96" font-size="5.0" text-anchor="middle" fill="#1a1a1a" stroke="#1a1a1a" stroke-width="0.25">IN</text>
<line x1="482.80" y1="104.26" x2="487.50" y2="104.26" stroke="#000" stroke-width="0.9" marker-end="url(#ah)"/>
<circle cx="405.20" cy="197.38" r="7.7" fill="#F77F7F" stroke="#EE4444" stroke-width="0.8"/>
<text x="404.40" y="195.88" font-size="5.2" text-anchor="middle" fill="#262626" stroke="#262626" stroke-width="0.15">Ph6-</text><text x="404.40" y="200.88" font-size="5.6" text-anchor="middle" fill="#262626" stroke="#262626" stroke-width="0.15">IN</text>
<circle cx="423.20" cy="181.86" r="7.7" fill="#F77F7F" stroke="#EE4444" stroke-width="0.8"/>
<text x="422.40" y="180.36" font-size="5.2" text-anchor="middle" fill="#262626" stroke="#262626" stroke-width="0.15">Ph6-</text><text x="422.40" y="185.36" font-size="5.6" text-anchor="middle" fill="#262626" stroke="#262626" stroke-width="0.15">IN</text>
<circle cx="441.20" cy="166.34" r="7.7" fill="#F77F7F" stroke="#EE4444" stroke-width="0.8"/>
<text x="440.40" y="164.84" font-size="5.2" text-anchor="middle" fill="#262626" stroke="#262626" stroke-width="0.15">Ph6-</text><text x="440.40" y="169.84" font-size="5.6" text-anchor="middle" fill="#262626" stroke="#262626" stroke-width="0.15">IN</text>
<circle cx="459.20" cy="150.82" r="7.7" fill="#F77F7F" stroke="#EE4444" stroke-width="0.8"/>
<text x="458.40" y="149.32" font-size="5.2" text-anchor="middle" fill="#262626" stroke="#262626" stroke-width="0.15">Ph6-</text><text x="458.40" y="154.32" font-size="5.6" text-anchor="middle" fill="#262626" stroke="#262626" stroke-width="0.15">IN</text>
<circle cx="459.20" cy="135.30" r="7.7" fill="#F77F7F" stroke="#EE4444" stroke-width="0.8"/>
<text x="458.40" y="133.80" font-size="5.2" text-anchor="middle" fill="#262626" stroke="#262626" stroke-width="0.15">Ph5-</text><text x="458.40" y="138.80" font-size="5.6" text-anchor="middle" fill="#262626" stroke="#262626" stroke-width="0.15">IN</text>
<circle cx="477.20" cy="119.78" r="7.7" fill="#F77F7F" stroke="#EE4444" stroke-width="0.8"/>
<text x="476.40" y="118.28" font-size="5.2" text-anchor="middle" fill="#262626" stroke="#262626" stroke-width="0.15">Ph5-</text><text x="476.40" y="123.28" font-size="5.6" text-anchor="middle" fill="#262626" stroke="#262626" stroke-width="0.15">IN</text>
<circle cx="495.20" cy="104.26" r="7.7" fill="#F77F7F" stroke="#EE4444" stroke-width="0.8"/>
<text x="494.40" y="102.76" font-size="5.2" text-anchor="middle" fill="#262626" stroke="#262626" stroke-width="0.15">Ph5-</text><text x="494.40" y="107.76" font-size="5.6" text-anchor="middle" fill="#262626" stroke="#262626" stroke-width="0.15">IN</text>
<circle cx="423.20" cy="197.38" r="7.7" fill="#FFC000" stroke="#D2601A" stroke-width="0.8"/>
<text x="422.40" y="195.88" font-size="5.2" text-anchor="middle" fill="#303030" stroke="#303030" stroke-width="0.15">Ph7-</text><text x="422.40" y="200.88" font-size="5.6" text-anchor="middle" fill="#303030" stroke="#303030" stroke-width="0.15">IN</text>
<circle cx="441.20" cy="181.86" r="7.7" fill="#FFC000" stroke="#D2601A" stroke-width="0.8"/>
<text x="440.40" y="180.36" font-size="5.2" text-anchor="middle" fill="#303030" stroke="#303030" stroke-width="0.15">Ph7-</text><text x="440.40" y="185.36" font-size="5.6" text-anchor="middle" fill="#303030" stroke="#303030" stroke-width="0.15">IN</text>
<circle cx="459.20" cy="166.34" r="7.7" fill="#FFC000" stroke="#D2601A" stroke-width="0.8"/>
<text x="458.40" y="164.84" font-size="5.2" text-anchor="middle" fill="#303030" stroke="#303030" stroke-width="0.15">Ph7-</text><text x="458.40" y="169.84" font-size="5.6" text-anchor="middle" fill="#303030" stroke="#303030" stroke-width="0.15">IN</text>
<circle cx="477.20" cy="150.82" r="7.7" fill="#FFC000" stroke="#D2601A" stroke-width="0.8"/>
<text x="476.40" y="149.32" font-size="5.2" text-anchor="middle" fill="#303030" stroke="#303030" stroke-width="0.15">Ph7-</text><text x="476.40" y="154.32" font-size="5.6" text-anchor="middle" fill="#303030" stroke="#303030" stroke-width="0.15">IN</text>
<circle cx="477.20" cy="135.30" r="7.7" fill="#FFC000" stroke="#D2601A" stroke-width="0.8"/>
<text x="476.40" y="133.80" font-size="5.2" text-anchor="middle" fill="#303030" stroke="#303030" stroke-width="0.15">Ph6-</text><text x="476.40" y="138.80" font-size="5.6" text-anchor="middle" fill="#303030" stroke="#303030" stroke-width="0.15">IN</text>
<circle cx="495.20" cy="119.78" r="7.7" fill="#FFC000" stroke="#D2601A" stroke-width="0.8"/>
<text x="494.40" y="118.28" font-size="5.2" text-anchor="middle" fill="#303030" stroke="#303030" stroke-width="0.15">Ph6-</text><text x="494.40" y="123.28" font-size="5.6" text-anchor="middle" fill="#303030" stroke="#303030" stroke-width="0.15">IN</text>
<circle cx="441.20" cy="197.38" r="7.7" fill="#787878" stroke="#1E1E1E" stroke-width="1.0"/>
<text x="440.40" y="195.88" font-size="5.2" text-anchor="middle" fill="#555" stroke="#555" stroke-width="0.15">Ph8-</text><text x="440.40" y="200.88" font-size="5.6" text-anchor="middle" fill="#555" stroke="#555" stroke-width="0.15">IN</text>
<circle cx="459.20" cy="181.86" r="7.7" fill="#787878" stroke="#1E1E1E" stroke-width="1.0"/>
<text x="458.40" y="180.36" font-size="5.2" text-anchor="middle" fill="#555" stroke="#555" stroke-width="0.15">Ph8-</text><text x="458.40" y="185.36" font-size="5.6" text-anchor="middle" fill="#555" stroke="#555" stroke-width="0.15">IN</text>
<circle cx="459.20" cy="197.38" r="7.7" fill="#787878" stroke="#1E1E1E" stroke-width="1.0"/>
<text x="458.40" y="195.88" font-size="5.2" text-anchor="middle" fill="#555" stroke="#555" stroke-width="0.15">Ph9-</text><text x="458.40" y="200.88" font-size="5.6" text-anchor="middle" fill="#555" stroke="#555" stroke-width="0.15">IN</text>
<circle cx="477.20" cy="166.34" r="7.7" fill="#787878" stroke="#1E1E1E" stroke-width="1.0"/>
<text x="476.40" y="164.84" font-size="5.2" text-anchor="middle" fill="#555" stroke="#555" stroke-width="0.15">Ph8-</text><text x="476.40" y="169.84" font-size="5.6" text-anchor="middle" fill="#555" stroke="#555" stroke-width="0.15">IN</text>
<circle cx="477.20" cy="181.86" r="7.7" fill="#787878" stroke="#1E1E1E" stroke-width="1.0"/>
<text x="476.40" y="180.36" font-size="5.2" text-anchor="middle" fill="#555" stroke="#555" stroke-width="0.15">Ph9-</text><text x="476.40" y="185.36" font-size="5.6" text-anchor="middle" fill="#555" stroke="#555" stroke-width="0.15">IN</text>
<circle cx="477.20" cy="197.38" r="7.7" fill="#787878" stroke="#1E1E1E" stroke-width="1.0"/>
<text x="476.40" y="195.88" font-size="5.2" text-anchor="middle" fill="#555" stroke="#555" stroke-width="0.15">Ph10-</text><text x="476.40" y="200.88" font-size="5.6" text-anchor="middle" fill="#555" stroke="#555" stroke-width="0.15">IN</text>
<circle cx="495.20" cy="135.30" r="7.7" fill="#787878" stroke="#1E1E1E" stroke-width="1.0"/>
<text x="494.40" y="133.80" font-size="5.2" text-anchor="middle" fill="#555" stroke="#555" stroke-width="0.15">Ph7-</text><text x="494.40" y="138.80" font-size="5.6" text-anchor="middle" fill="#555" stroke="#555" stroke-width="0.15">IN</text>
<circle cx="495.20" cy="150.82" r="7.7" fill="#787878" stroke="#1E1E1E" stroke-width="1.0"/>
<text x="494.40" y="149.32" font-size="5.2" text-anchor="middle" fill="#555" stroke="#555" stroke-width="0.15">Ph8-</text><text x="494.40" y="154.32" font-size="5.6" text-anchor="middle" fill="#555" stroke="#555" stroke-width="0.15">IN</text>
<circle cx="495.20" cy="166.34" r="7.7" fill="#787878" stroke="#1E1E1E" stroke-width="1.0"/>
<text x="494.40" y="164.84" font-size="5.2" text-anchor="middle" fill="#555" stroke="#555" stroke-width="0.15">Ph9-</text><text x="494.40" y="169.84" font-size="5.6" text-anchor="middle" fill="#555" stroke="#555" stroke-width="0.15">IN</text>
<circle cx="495.20" cy="181.86" r="7.7" fill="#787878" stroke="#1E1E1E" stroke-width="1.0"/>
<text x="494.40" y="180.36" font-size="5.2" text-anchor="middle" fill="#555" stroke="#555" stroke-width="0.15">Ph10-</text><text x="494.40" y="185.36" font-size="5.6" text-anchor="middle" fill="#555" stroke="#555" stroke-width="0.15">IN</text>
<circle cx="495.20" cy="197.38" r="7.7" fill="#787878" stroke="#1E1E1E" stroke-width="1.0"/>
<text x="494.40" y="195.88" font-size="5.2" text-anchor="middle" fill="#555" stroke="#555" stroke-width="0.15">Ph11-</text><text x="494.40" y="200.88" font-size="5.6" text-anchor="middle" fill="#555" stroke="#555" stroke-width="0.15">IN</text>
<text x="520.84" y="25.45" font-size="10.1" textLength="49.58" lengthAdjust="spacingAndGlyphs" fill="#000" stroke="#000" stroke-width="0.15">e.g., 8-LS</text>
<text x="545.50" y="41.00" font-size="8.8" textLength="19.23" lengthAdjust="spacingAndGlyphs" fill="#000" stroke="#000" stroke-width="0.26">SAM</text>
<text x="567.86" y="48.40" font-size="8.5" textLength="28.91" lengthAdjust="spacingAndGlyphs" fill="#000" stroke="#000" stroke-width="0.26">Ph1-IN</text>
<text x="572.06" y="56.30" font-size="8.5" textLength="28.91" lengthAdjust="spacingAndGlyphs" fill="#000" stroke="#000" stroke-width="0.26">Ph2-IN</text>
<text x="578.28" y="63.80" font-size="8.5" textLength="28.06" lengthAdjust="spacingAndGlyphs" fill="#000" stroke="#000" stroke-width="0.26">Ph3-IN</text>
<path d="M555.2 43.7V55M556.7 54.5L567 47.7M560.1 57.6L571.9 54.7M565.5 60.6L576.8 60.6" stroke="#3a3a3a" stroke-width="1.1" stroke-dasharray="1.8 1.1" fill="none"/>
<rect x="537.6" y="86.5" width="34.8" height="29" fill="#FD7D80"/>
<rect x="537.6" y="115.5" width="34.8" height="61.9" fill="#FFC000"/>
<rect x="537.6" y="177.4" width="34.8" height="51" fill="#808080"/>
<path d="M537.6 86.5 C537.6 76,538.8 68.5,543.9 62.4 L555.2 55.1 L566.5 62.4 C571.6 68.5,572.4 76,572.4 86.5 L572.4 253.6 L537.6 253.6 Z" fill="none" stroke="#12303F" stroke-width="1.3" stroke-linejoin="round"/>
<path d="M555.2 55.1 L562 59.5 L548.4 59.5Z" fill="#12303F"/>
<line x1="552.2" x2="558.2" y1="58.1" y2="58.1" stroke="#fff" stroke-width="0.8"/>
<line x1="543.9" x2="566.5" y1="62.4" y2="62.4" stroke="#12303F" stroke-width="1.1"/>
<line x1="539.9" x2="570.3" y1="70.1" y2="70.1" stroke="#12303F" stroke-width="1.1"/>
<line x1="537.6" x2="572.4" y1="86.5" y2="86.5" stroke="#12303F" stroke-width="1.1"/>
<line x1="537.6" x2="572.4" y1="115.5" y2="115.5" stroke="#12303F" stroke-width="1.1"/>
<line x1="537.6" x2="572.4" y1="177.4" y2="177.4" stroke="#12303F" stroke-width="1.1"/>
<line x1="537.6" x2="572.4" y1="228.4" y2="228.4" stroke="#12303F" stroke-width="1.1"/>
<line x1="537.6" x2="572.4" y1="240.7" y2="240.7" stroke="#12303F" stroke-width="1.1"/>
<line x1="537.6" x2="572.4" y1="246.2" y2="246.2" stroke="#12303F" stroke-width="1.1"/>
<line x1="537.6" x2="572.4" y1="249.4" y2="249.4" stroke="#12303F" stroke-width="0.85"/>
<line x1="537.6" x2="572.4" y1="251.6" y2="251.6" stroke="#12303F" stroke-width="0.85"/>
<text x="544.22" y="69.00" font-size="6.4" textLength="22.47" lengthAdjust="spacingAndGlyphs" fill="#1a1a1a" stroke="#1a1a1a" stroke-width="0.26">Ph4-IN</text>
<text x="540.54" y="81.60" font-size="8.7" textLength="29.75" lengthAdjust="spacingAndGlyphs" fill="#333" stroke="#333" stroke-width="0.26">Ph5-IN</text>
<text x="538.44" y="104.80" font-size="10.8" textLength="33.45" lengthAdjust="spacingAndGlyphs" fill="#fff" stroke="#fff" stroke-width="0.11">Ph6-IN</text>
<text x="538.44" y="151.00" font-size="10.5" textLength="33.34" lengthAdjust="spacingAndGlyphs" fill="#fff" stroke="#fff" stroke-width="0.11">Ph7-IN</text>
<text x="538.44" y="207.20" font-size="10.6" textLength="33.45" lengthAdjust="spacingAndGlyphs" fill="#e6e6e6" stroke="#e6e6e6" stroke-width="0.11">Ph8-IN</text>
<text x="578.03" y="99.00" font-size="9.6" textLength="65.61" lengthAdjust="spacingAndGlyphs" fill="#000" stroke="#000" stroke-width="0.29">IN with initiated</text>
<text x="578.52" y="110.40" font-size="9.6" textLength="44.31" lengthAdjust="spacingAndGlyphs" fill="#000" stroke="#000" stroke-width="0.29">elongation</text>
<text x="577.16" y="147.80" font-size="9.4" textLength="55.31" lengthAdjust="spacingAndGlyphs" fill="#000" stroke="#000" stroke-width="0.28">Elongating IN</text>
<text x="577.13" y="200.70" font-size="9.3" textLength="45.30" lengthAdjust="spacingAndGlyphs" fill="#000" stroke="#000" stroke-width="0.28">Elongation</text>
<text x="577.73" y="212.50" font-size="9.3" textLength="42.15" lengthAdjust="spacingAndGlyphs" fill="#000" stroke="#000" stroke-width="0.28">ceased IN</text>
<path d="M521.40 267.10L527.20 276.30L515.60 276.30Z" fill="#D7EFC7" stroke="#000" stroke-width="0.9" stroke-linejoin="miter"/>
<circle cx="513.5" cy="290.4" r="5.6" fill="#fff" stroke="#FF6A6A" stroke-width="0.9" stroke-dasharray="1.1 0.5"/>
<line x1="519" y1="290.4" x2="524" y2="290.4" stroke="#000" stroke-width="0.9" marker-end="url(#ah)"/>
<circle cx="530" cy="290.4" r="5.6" fill="#FF8080" stroke="#F01010" stroke-width="0.9"/>
<circle cx="521.4" cy="312.7" r="5.6" fill="#FF8080" stroke="#F53040" stroke-width="0.9"/>
<circle cx="521.4" cy="327.2" r="5.6" fill="#FFC000" stroke="#C04A20" stroke-width="0.9"/>
<circle cx="521.4" cy="342.0" r="5.6" fill="#7F7F7F" stroke="#222" stroke-width="1.1"/>
<text x="537.35" y="274.40" font-size="9.3" textLength="93.67" lengthAdjust="spacingAndGlyphs" fill="#000" stroke="#000" stroke-width="0.28">: Phytomer1-internode</text>
<text x="537.35" y="292.70" font-size="9.3" textLength="133.15" lengthAdjust="spacingAndGlyphs" fill="#000" stroke="#000" stroke-width="0.28">: Transition from non-elongating</text>
<text x="542.86" y="303.20" font-size="9.3" textLength="96.33" lengthAdjust="spacingAndGlyphs" fill="#000" stroke="#000" stroke-width="0.28">to elongating internode</text>
<text x="537.35" y="315.70" font-size="9.3" textLength="146.32" lengthAdjust="spacingAndGlyphs" fill="#000" stroke="#000" stroke-width="0.28">: Internode with initiated elongation</text>
<text x="537.35" y="329.80" font-size="9.3" textLength="92.12" lengthAdjust="spacingAndGlyphs" fill="#000" stroke="#000" stroke-width="0.28">: Elongating internode</text>
<text x="537.35" y="344.50" font-size="9.3" textLength="125.28" lengthAdjust="spacingAndGlyphs" fill="#000" stroke="#000" stroke-width="0.28">: Elongation ceased internode</text>
</svg>
</body></html>
